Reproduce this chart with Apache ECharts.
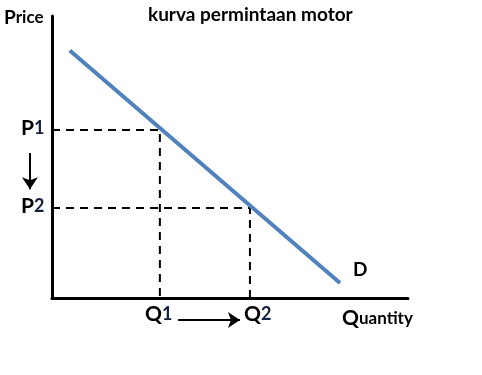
<!DOCTYPE html>
<html><head><meta charset="utf-8">
<script src="https://cdn.jsdelivr.net/npm/echarts@6/dist/echarts.min.js"></script>
<style>html,body{margin:0;padding:0;background:#fff}#c{width:482px;height:375px}</style>
</head><body><div id="c"></div>
<script>
const title = "kurva permintaan motor";
const demandLine = [[5.0, 87.8], [80.9, 5.3]];
const priceLevels = [["P", "1", 59.6], ["P", "2", 31.9]];
const quantityLevels = [["Q", "1", 30.3], ["Q", "2", 55.6]];
const curveLabel = "D";
const shiftArrows = [[[-6.2, 51.4], [-6.2, 38.6]], [[35.4, -7.8], [52.8, -7.8]]];

const chart = echarts.init(document.getElementById('c'));
const FF = 'Lato, "Open Sans", sans-serif';
const dashed = [];
priceLevels.forEach((p, i) => {
  const q = quantityLevels[i][2];
  dashed.push({type:'line', data:[[0,p[2]],[q,p[2]],[q,0]], symbol:'none', clip:false,
    lineStyle:{color:'#000', width:2, type:[8,6]}, z:2});
});
const lbl = (x, y, a, b, sa, sb) => ({type:'text', x, y, style:{text:'{a|'+a+'}{b|'+b+'}',
  rich:{a:{font:'bold '+sa+'px '+FF, fill:'#000'}, b:{font:'bold '+sb+'px '+FF, fill:'#14203f'}}}});
chart.setOption({
  animation:false,
  grid:{left:52, right:74, top:16, bottom:77},
  xAxis:{type:'value', min:0, max:100, axisLine:{onZero:false, lineStyle:{color:'#000', width:3}},
    axisTick:{show:false}, axisLabel:{show:false}, splitLine:{show:false}},
  yAxis:{type:'value', min:0, max:100, axisLine:{show:true, onZero:false, lineStyle:{color:'#000', width:3}},
    axisTick:{show:false}, axisLabel:{show:false}, splitLine:{show:false}},
  series:[
    ...dashed,
    {type:'line', data:demandLine, symbol:'none', clip:false,
      lineStyle:{color:'#4F81BD', width:4}, z:3},
    {type:'lines', coordinateSystem:'cartesian2d', clip:false, symbol:['none','arrow'], symbolSize:[11,12],
      lineStyle:{color:'#000', width:2, opacity:1},
      data:shiftArrows.map(c => ({coords:c}))}
  ],
  graphic:[
    {type:'text', x:148, y:5, style:{text:title, font:'bold 19px '+FF, fill:'#000'}},
    {type:'text', x:4, y:8, style:{text:'{a|P}{b|rice}', rich:{a:{font:'bold 19px '+FF, fill:'#000'}, b:{font:'bold 17px '+FF, fill:'#000'}}}},
    lbl(21, 118, priceLevels[0][0], priceLevels[0][1], 21, 18),
    lbl(21, 196, priceLevels[1][0], priceLevels[1][1], 21, 18),
    lbl(145, 304, quantityLevels[0][0], quantityLevels[0][1], 21, 18),
    lbl(244, 304, quantityLevels[1][0], quantityLevels[1][1], 21, 18),
    {type:'text', x:342, y:308, style:{text:'{a|Q}{b|uantity}', rich:{a:{font:'bold 21px '+FF, fill:'#000'}, b:{font:'bold 17px '+FF, fill:'#000'}}}},
    {type:'text', x:353, y:260, style:{text:curveLabel, font:'bold 19px '+FF, fill:'#000'}}
  ]
});
</script></body></html>
